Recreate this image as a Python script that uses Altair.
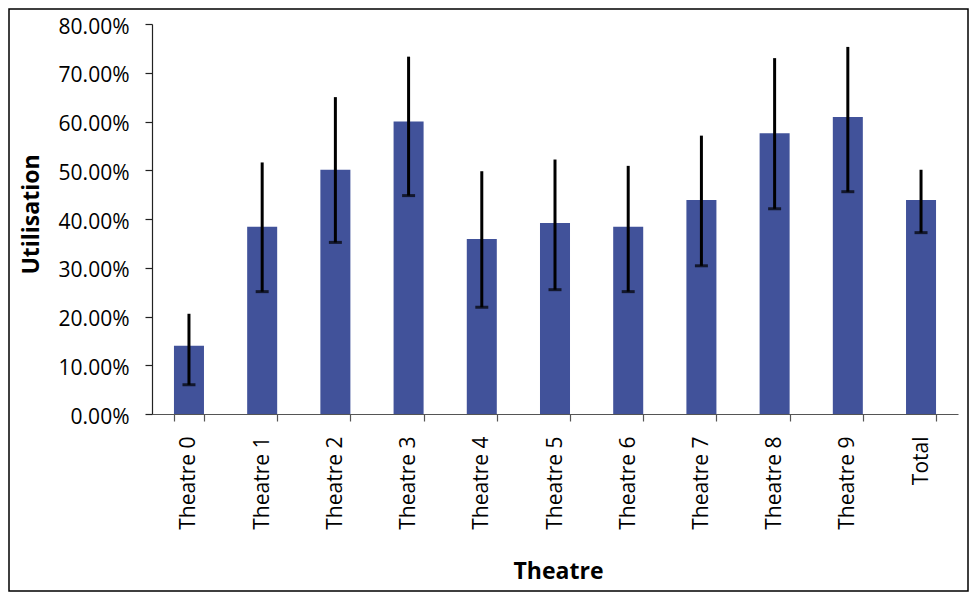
import altair as alt
import pandas as pd

categories = ["Theatre 0", "Theatre 1", "Theatre 2", "Theatre 3", "Theatre 4",
              "Theatre 5", "Theatre 6", "Theatre 7", "Theatre 8", "Theatre 9", "Total"]
utilisation = [0.140, 0.384, 0.501, 0.600, 0.359, 0.392, 0.384, 0.439, 0.576, 0.609, 0.439]
err_upper = [0.2056, 0.516, 0.650, 0.733, 0.498, 0.522, 0.509, 0.571, 0.730, 0.753, 0.501]
err_lower = [0.060, 0.251, 0.352, 0.448, 0.219, 0.255, 0.251, 0.304, 0.421, 0.456, 0.372]
y_ticks = [0.0, 0.1, 0.2, 0.3, 0.4, 0.5, 0.6, 0.7, 0.8]

df = pd.DataFrame({
    "Theatre": categories,
    "Utilisation": utilisation,
    "upper": err_upper,
    "lower": err_lower,
})

FONT = "Open Sans"
W, H = 806, 390

x = alt.X(
    "Theatre:N",
    sort=categories,
    scale=alt.Scale(paddingInner=0.59, paddingOuter=0.30),
    axis=alt.Axis(
        title="Theatre",
        titleFont=FONT, titleFontSize=23, titleFontWeight="bold", titleColor="#000",
        titleX=406, titleY=164, titleAlign="center", titleBaseline="alphabetic",
        labelAngle=-90, labelFont=FONT, labelFontSize=21, labelColor="#000",
        labelPadding=15, tickSize=7, tickColor="#555", tickWidth=1.2,
        domainColor="#555", domainWidth=1.2, tickBand="extent", grid=False,
    ),
)

y_axis = alt.Axis(
    title="Utilisation",
    titleFont=FONT, titleFontSize=23, titleFontWeight="bold", titleColor="#000",
    titleX=-114, titleY=190, titleAlign="center", titleBaseline="alphabetic",
    values=y_ticks, format=".2%",
    labelFont=FONT, labelFontSize=21, labelColor="#000", labelPadding=16, labelOffset=3,
    tickSize=7, tickColor="#222", tickWidth=1.2, domainColor="#222", domainWidth=1.2,
    grid=False,
)
yscale = alt.Scale(domain=[0, 0.8], nice=False)

bars = alt.Chart(df).mark_bar(color="#41529A").encode(
    x=x,
    y=alt.Y("Utilisation:Q", scale=yscale, axis=y_axis),
)

rules = alt.Chart(df).mark_rule(color="#000", strokeWidth=3).encode(
    x=alt.X("Theatre:N", sort=categories),
    y=alt.Y("lower:Q"),
    y2="upper:Q",
)

caps = alt.Chart(df).mark_tick(color="#000", size=13, thickness=3).encode(
    x=alt.X("Theatre:N", sort=categories),
    y=alt.Y("lower:Q"),
)

frame = alt.Chart(pd.DataFrame({"f": [0]})).mark_rect(
    fill="white", fillOpacity=0, stroke="#000", strokeWidth=1.5
).encode(
    x=alt.value(-143), x2=alt.value(816), y=alt.value(-15), y2=alt.value(567)
)

chart = alt.layer(bars, rules, caps, frame).properties(
    width=W, height=H,
    autosize=alt.AutoSizeParams(type="none"),
    padding={"left": 144, "top": 16, "right": 11, "bottom": 178},
).configure_view(stroke=None)

chart.save("out.html", embed_options={"renderer": "svg", "actions": False})
